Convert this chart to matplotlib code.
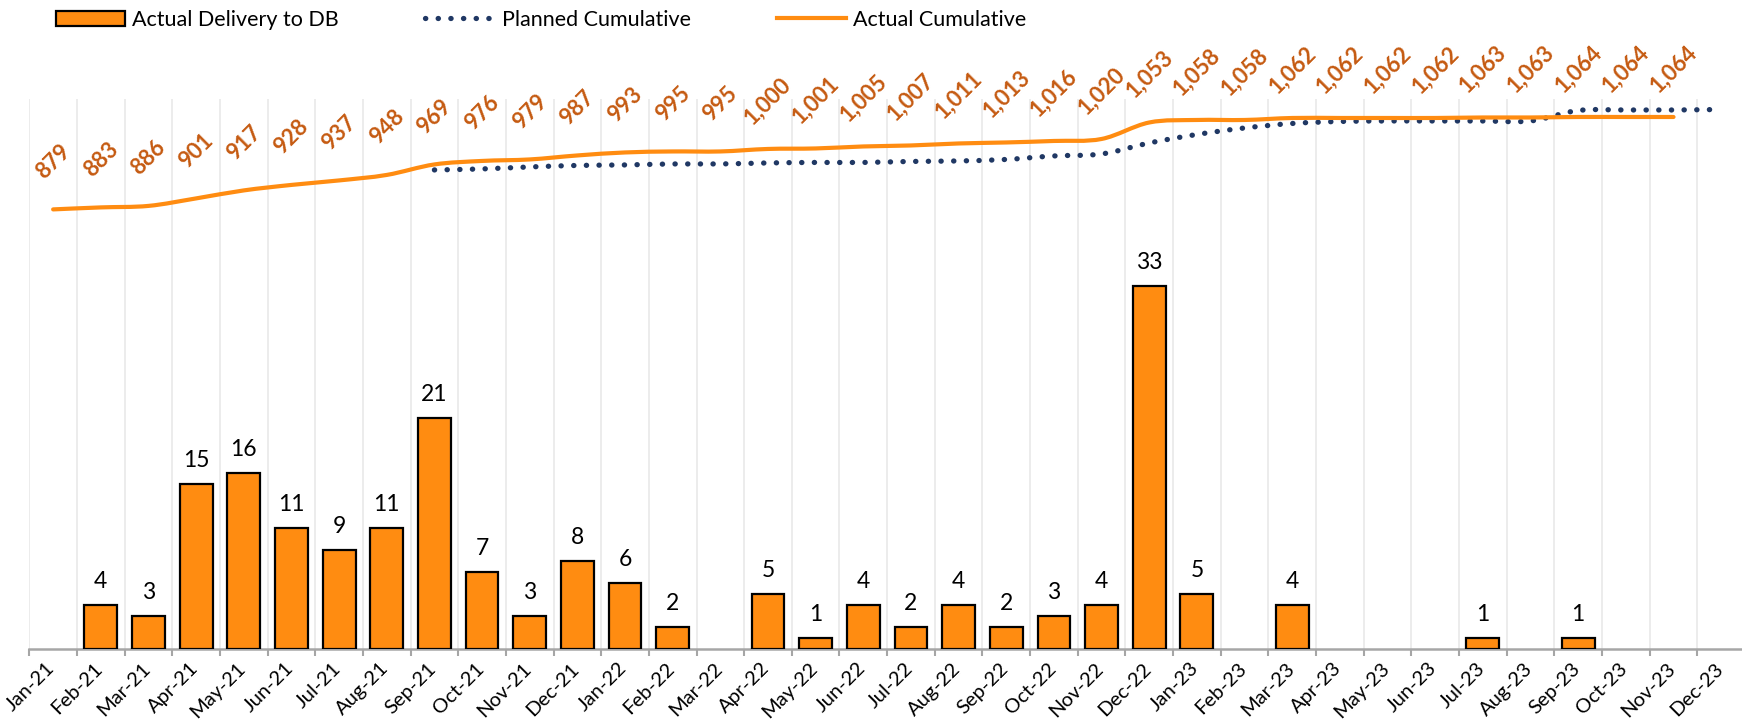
import matplotlib
matplotlib.use("Agg")
import matplotlib.pyplot as plt
import matplotlib.transforms as mtransforms
import numpy as np
from matplotlib.path import Path
from matplotlib.patches import PathPatch, Patch
from matplotlib.lines import Line2D

plt.rcParams["font.family"] = ["Lato", "DejaVu Sans"]

months = ["Jan-21", "Feb-21", "Mar-21", "Apr-21", "May-21", "Jun-21", "Jul-21", "Aug-21",
          "Sep-21", "Oct-21", "Nov-21", "Dec-21", "Jan-22", "Feb-22", "Mar-22", "Apr-22",
          "May-22", "Jun-22", "Jul-22", "Aug-22", "Sep-22", "Oct-22", "Nov-22", "Dec-22",
          "Jan-23", "Feb-23", "Mar-23", "Apr-23", "May-23", "Jun-23", "Jul-23", "Aug-23",
          "Sep-23", "Oct-23", "Nov-23", "Dec-23"]

# monthly deliveries (None = nothing delivered / no label)
delivered = [None, 4, 3, 15, 16, 11, 9, 11, 21, 7, 3, 8,
             6, 2, None, 5, 1, 4, 2, 4, 2, 3, 4, 33,
             5, None, 4, None, None, None, 1, None, 1, None, None, None]

actual_cum = [879, 883, 886, 901, 917, 928, 937, 948, 969, 976, 979, 987,
              993, 995, 995, 1000, 1001, 1005, 1007, 1011, 1013, 1016, 1020, 1053,
              1058, 1058, 1062, 1062, 1062, 1062, 1063, 1063, 1064, 1064, 1064, None]

planned_cum = [None, None, None, None, None, None, None, None,
               958, 960, 964, 967,
               968, 970, 970, 972, 973, 973, 975, 976, 979, 986, 990, 1012,
               1029, 1042, 1051, 1055, 1056, 1056, 1056, 1056, 1077, 1078, 1078, 1079]

ORANGE = "#FF8C11"
LABEL_ORANGE = "#C55A11"
NAVY = "#203864"
GRID = "#EAEAEA"
AXIS = "#A6A6A6"


def smooth_path(xs, ys):
    # excel-like smoothed line: catmull-rom turned into cubic bezier segments
    n = len(xs)
    verts = [(xs[0], ys[0])]
    codes = [Path.MOVETO]
    for i in range(n - 1):
        x0, y0 = xs[max(i - 1, 0)], ys[max(i - 1, 0)]
        x1, y1 = xs[i], ys[i]
        x2, y2 = xs[i + 1], ys[i + 1]
        x3, y3 = xs[min(i + 2, n - 1)], ys[min(i + 2, n - 1)]
        verts += [(x1 + (x2 - x0) / 6, y1 + (y2 - y0) / 6),
                  (x2 - (x3 - x1) / 6, y2 - (y3 - y1) / 6),
                  (x2, y2)]
        codes += [Path.CURVE4] * 3
    return Path(verts, codes)


fig = plt.figure(figsize=(17.42, 7.26), dpi=100)
ax = fig.add_axes([29.3 / 1742, 77.5 / 726, (1745 - 29.3) / 1742, 549.5 / 726])
ax2 = ax.twinx()

x = np.arange(len(months))

# bars
bx = [i for i, v in enumerate(delivered) if v is not None]
bv = [delivered[i] for i in bx]
ax.bar(bx, bv, width=0.69, color=ORANGE, edgecolor="black", linewidth=1.6, zorder=3)
for xi, v in zip(bx, bv):
    ax.annotate(str(v), (xi, v), xytext=(0, 17), textcoords="offset pixels",
                ha="center", va="baseline", fontsize=16.5, color="black")

ax.set_ylim(0, 50)
ax.set_xlim(-0.5, len(months) - 0.5)
ax.set_xticks(x)
ax.set_xticklabels(months, rotation=45, ha="right", rotation_mode="default", fontsize=14.5)
ax.tick_params(axis="x", which="major", length=0, pad=8)
# nudge the rotated month labels a little to the right
shift = mtransforms.ScaledTranslation(5 / 100, 0, fig.dpi_scale_trans)
for lbl in ax.get_xticklabels():
    lbl.set_transform(lbl.get_transform() + shift)
ax.set_xticks(np.arange(-0.5, len(months)), minor=True)
ax.tick_params(axis="x", which="minor", length=5, width=1.5, color=AXIS, direction="out")
ax.grid(which="minor", axis="x", color=GRID, linewidth=1.3, zorder=0)
ax.set_axisbelow(True)
ax.set_yticks([])
for s in ["top", "left", "right"]:
    ax.spines[s].set_visible(False)
ax.spines["bottom"].set_color(AXIS)
ax.spines["bottom"].set_linewidth(1.8)

# cumulative lines on the secondary scale
ax2.set_ylim(0, 1100)
ax2.set_yticks([])
for s in ["top", "left", "right", "bottom"]:
    ax2.spines[s].set_visible(False)

px = [i for i, v in enumerate(planned_cum) if v is not None]
py = [planned_cum[i] for i in px]
ax2.add_patch(PathPatch(smooth_path(px, py), fill=False, edgecolor=NAVY, linewidth=3.8,
                        linestyle=(0, (0.05, 2.35)), capstyle="round", zorder=4))

ac = [i for i, v in enumerate(actual_cum) if v is not None]
ay = [actual_cum[i] for i in ac]
ax2.add_patch(PathPatch(smooth_path(ac, ay), fill=False, edgecolor=ORANGE, linewidth=3.0,
                        capstyle="round", zorder=5))
for xi, v in zip(ac, ay):
    ax2.annotate(f"{v:,}", (xi, v), xytext=(0, 48), textcoords="offset pixels",
                 ha="center", va="center", rotation=45, fontsize=16,
                 fontweight="bold", color=LABEL_ORANGE)

handles = [Patch(facecolor=ORANGE, edgecolor="black", linewidth=1.6),
           Line2D([], [], color=NAVY, linewidth=3.8, linestyle=(0, (0.05, 2.35)),
                  dash_capstyle="round"),
           Line2D([], [], color=ORANGE, linewidth=3.0)]
fig.legend(handles, ["Actual Delivery to DB", "Planned Cumulative", "Actual Cumulative"],
           loc="center left", bbox_to_anchor=(56 / 1742, 1 - 20 / 726), ncol=3,
           frameon=False, fontsize=15.5, handlelength=3.2, handletextpad=0.35,
           columnspacing=4.0, borderpad=0, borderaxespad=0)

fig.savefig("out.png", dpi=100)
